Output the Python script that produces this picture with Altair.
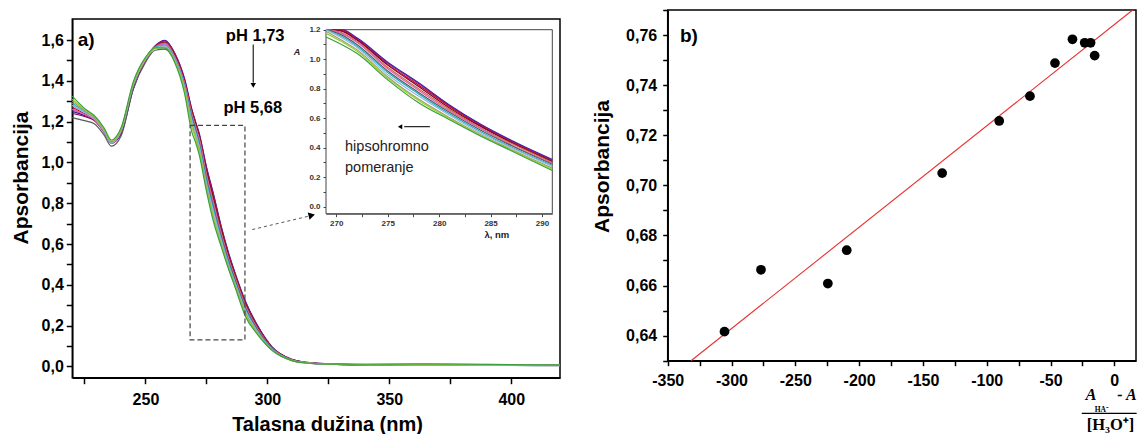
import altair as alt
import pandas as pd

W, H = 1129, 426

# ---------------- panel a) : UV spectra ----------------
wavelength = [220, 225, 229, 233, 236, 240, 245, 250, 254, 258, 262, 266, 269, 270.5, 272,
              275, 278, 281, 284, 287, 291, 296, 302, 310, 316, 325, 340, 360, 380, 400, 420]

series_names = ["s01", "s02", "s03", "s04", "s05", "s06", "s07", "s08", "s09", "s10", "s11", "s12"]
series_colors = ["#2424A8", "#7B1FA2", "#C41010", "#800040", "#C87030", "#E060C0",
                 "#5A5A5A", "#20B0C0", "#8FB8E8", "#A0A060", "#9ACD32", "#3CA040"]

abs_s01 = [1.25, 1.23, 1.21, 1.15, 1.095, 1.14, 1.36, 1.50, 1.57, 1.598, 1.535,
           1.41, 1.26, 1.20, 1.145, 0.98, 0.84, 0.69, 0.56, 0.45, 0.32, 0.20, 0.095, 0.035,
           0.020, 0.013, 0.009, 0.007, 0.006, 0.005, 0.005]
abs_s02 = [1.26, 1.235, 1.215, 1.155, 1.10, 1.145, 1.365, 1.505, 1.572, 1.596, 1.535,
           1.41, 1.26, 1.20, 1.14, 0.975, 0.835, 0.685, 0.555, 0.445, 0.315, 0.197, 0.094, 0.035,
           0.020, 0.013, 0.009, 0.008, 0.007, 0.006, 0.005]
abs_s03 = [1.27, 1.24, 1.215, 1.155, 1.10, 1.15, 1.37, 1.505, 1.57, 1.59, 1.53,
           1.40, 1.255, 1.195, 1.135, 0.965, 0.825, 0.68, 0.55, 0.44, 0.31, 0.193, 0.092, 0.034,
           0.019, 0.012, 0.009, 0.008, 0.007, 0.006, 0.006]
abs_s04 = [1.24, 1.225, 1.205, 1.15, 1.095, 1.145, 1.37, 1.50, 1.565, 1.588, 1.525,
           1.40, 1.25, 1.19, 1.13, 0.96, 0.815, 0.67, 0.545, 0.435, 0.305, 0.19, 0.09, 0.033,
           0.019, 0.012, 0.008, 0.007, 0.006, 0.005, 0.005]
abs_s05 = [1.28, 1.245, 1.22, 1.16, 1.10, 1.155, 1.375, 1.505, 1.565, 1.585, 1.52,
           1.39, 1.24, 1.18, 1.12, 0.945, 0.80, 0.66, 0.535, 0.43, 0.30, 0.186, 0.088, 0.033,
           0.019, 0.012, 0.009, 0.008, 0.008, 0.007, 0.006]
abs_s06 = [1.26, 1.235, 1.21, 1.15, 1.095, 1.15, 1.375, 1.505, 1.565, 1.58, 1.515,
           1.39, 1.235, 1.175, 1.115, 0.935, 0.79, 0.65, 0.53, 0.42, 0.295, 0.182, 0.087, 0.032,
           0.018, 0.012, 0.009, 0.009, 0.008, 0.006, 0.005]
abs_s07 = [1.22, 1.205, 1.19, 1.135, 1.08, 1.13, 1.36, 1.49, 1.55, 1.555, 1.50,
           1.38, 1.225, 1.165, 1.10, 0.92, 0.775, 0.64, 0.52, 0.415, 0.288, 0.178, 0.085, 0.032,
           0.018, 0.011, 0.008, 0.007, 0.006, 0.005, 0.004]
abs_s08 = [1.29, 1.25, 1.22, 1.16, 1.10, 1.16, 1.38, 1.51, 1.565, 1.575, 1.51,
           1.375, 1.215, 1.155, 1.09, 0.91, 0.765, 0.63, 0.51, 0.405, 0.28, 0.173, 0.083, 0.031,
           0.018, 0.012, 0.009, 0.008, 0.007, 0.006, 0.005]
abs_s09 = [1.28, 1.245, 1.215, 1.155, 1.095, 1.155, 1.38, 1.505, 1.56, 1.57, 1.505,
           1.37, 1.205, 1.145, 1.08, 0.895, 0.75, 0.62, 0.50, 0.40, 0.273, 0.169, 0.082, 0.030,
           0.018, 0.011, 0.008, 0.007, 0.006, 0.005, 0.004]
abs_s10 = [1.30, 1.255, 1.22, 1.16, 1.10, 1.16, 1.385, 1.51, 1.56, 1.565, 1.50,
           1.36, 1.19, 1.13, 1.065, 0.88, 0.73, 0.605, 0.49, 0.39, 0.262, 0.164, 0.080, 0.030,
           0.018, 0.012, 0.010, 0.010, 0.009, 0.007, 0.006]
abs_s11 = [1.31, 1.26, 1.225, 1.165, 1.105, 1.165, 1.39, 1.51, 1.56, 1.562, 1.495,
           1.355, 1.175, 1.12, 1.055, 0.87, 0.72, 0.598, 0.485, 0.385, 0.254, 0.16, 0.079, 0.029,
           0.017, 0.012, 0.010, 0.011, 0.010, 0.008, 0.006]
abs_s12 = [1.325, 1.265, 1.23, 1.17, 1.11, 1.17, 1.395, 1.515, 1.562, 1.56, 1.49,
           1.34, 1.15, 1.10, 1.04, 0.86, 0.705, 0.59, 0.48, 0.38, 0.245, 0.156, 0.078, 0.029,
           0.017, 0.012, 0.011, 0.013, 0.012, 0.009, 0.007]

all_abs = [abs_s01, abs_s02, abs_s03, abs_s04, abs_s05, abs_s06,
           abs_s07, abs_s08, abs_s09, abs_s10, abs_s11, abs_s12]

# ---------------- panel b) : linearisation ----------------
ratio_x = [-305.5, -276.9, -224.5, -209.7, -134.9, -90.2, -66.1, -46.5, -32.8, -23.2, -18.6, -15.4]
absorb_b = [0.6416, 0.6663, 0.6608, 0.6741, 0.7049, 0.7257, 0.7356, 0.7488, 0.7583, 0.7569, 0.7569, 0.7518]
fit_x = [-331.7, 14.4]
fit_y = [0.630, 0.770]

# ---------------- layout (pixels inside the chart) ----------------
MAIN_X = [64.3, 552.0]
MAIN_Y = [369.7, 11.0]
INS_X = [318.0, 544.3]
INS_Y = [205.7, 21.7]
RGT_X = [659.7, 1128.0]
RGT_Y = [352.7, 2.0]

FONT = "Liberation Sans"
SERIF = "Liberation Serif"

rows = []
for name, vals in zip(series_names, all_abs):
    for wl, a in zip(wavelength, vals):
        rows.append({"wl": wl, "A": a, "s": name})
spec_df = pd.DataFrame(rows)
inset_df = spec_df[(spec_df["wl"] >= 269) & (spec_df["wl"] <= 291)]

color_enc = alt.Color("s:N", scale=alt.Scale(domain=series_names, range=series_colors), legend=None)


def axis(**kw):
    base = dict(grid=False, domainColor="black", tickColor="black", labelColor="black",
                labelFont=FONT, labelFontWeight="bold", labelFlush=False, labelOverlap=False,
                titleFont=FONT, titleFontWeight="bold", titleColor="black")
    base.update(kw)
    return alt.Axis(**base)


def xy(df, xs, ys, xf="x", yf="y", xaxis=None, yaxis=None):
    return dict(x=alt.X(f"{xf}:Q", scale=xs, axis=xaxis), y=alt.Y(f"{yf}:Q", scale=ys, axis=yaxis))


# ---- main (a) scales ----
mx = alt.Scale(domain=[220, 420], range=MAIN_X, nice=False, zero=False)
my = alt.Scale(domain=[-0.055, 1.703], range=MAIN_Y, nice=False, zero=False)

main_xaxis = axis(orient="bottom", offset=-(H - MAIN_Y[0]),
                  values=[225, 250, 275, 300, 325, 350, 375, 400],
                  labelExpr="datum.value % 50 === 0 ? format(datum.value, 'd') : ''",
                  labelFontSize=16, labelPadding=8, tickSize=6, tickWidth=1.5, domainWidth=1.5,
                  title="Talasna dužina (nm)", titleFontSize=20, titleX=319, titleY=52.3,
                  titleAlign="center", titleBaseline="alphabetic")
main_yaxis = axis(orient="left", offset=-MAIN_X[0],
                  values=[0, 0.1, 0.2, 0.3, 0.4, 0.5, 0.6, 0.7, 0.8, 0.9, 1.0, 1.1, 1.2, 1.3, 1.4, 1.5, 1.6],
                  labelExpr="round(datum.value*10) % 2 === 0 ? replace(format(datum.value, '.1f'), '.', ',') : ''",
                  labelFontSize=16, labelPadding=3, tickSize=6, tickWidth=1.5, domainWidth=1.5,
                  title="Apsorbancija", titleFontSize=21, titleAngle=270, titleX=-45, titleY=169.5,
                  titleAlign="center", titleBaseline="alphabetic")

layers = []

frame_a = pd.DataFrame({"x": [220], "x2": [420], "y": [-0.055], "y2": [1.703]})
layers.append(alt.Chart(frame_a).mark_rect(fillOpacity=0, stroke="black", strokeWidth=1.5).encode(
    x2="x2:Q", y2="y2:Q", **xy(frame_a, mx, my)))

layers.append(alt.Chart(spec_df).mark_line(interpolate="monotone", strokeWidth=1.2).encode(
    color=color_enc, detail="s:N",
    **xy(spec_df, mx, my, "wl", "A", main_xaxis, main_yaxis)))

zoom_box = pd.DataFrame({"x": [268.3], "x2": [290.8], "y": [0.13], "y2": [1.182]})
layers.append(alt.Chart(zoom_box).mark_rect(fillOpacity=0, stroke="#444", strokeWidth=1.2,
                                            strokeDash=[5, 3]).encode(
    x2="x2:Q", y2="y2:Q", **xy(zoom_box, mx, my)))

conn = pd.DataFrame({"x": [293.8, 317.4], "y": [0.671, 0.738]})
layers.append(alt.Chart(conn).mark_line(strokeDash=[3, 3], color="#555", strokeWidth=1).encode(
    **xy(conn, mx, my)))
conn_head = pd.DataFrame({"x": [318.2], "y": [0.741]})
layers.append(alt.Chart(conn_head).mark_point(shape="triangle-right", filled=True, size=55,
                                              color="black", opacity=1, angle=346).encode(
    **xy(conn_head, mx, my)))

ph_arrow = pd.DataFrame({"x": [294.2, 294.2], "y": [1.578, 1.39]})
layers.append(alt.Chart(ph_arrow).mark_line(color="#222", strokeWidth=1.2).encode(
    **xy(ph_arrow, mx, my)))
ph_head = pd.DataFrame({"x": [294.2], "y": [1.378]})
layers.append(alt.Chart(ph_head).mark_point(shape="triangle-down", filled=True, size=30,
                                            color="black", opacity=1).encode(
    **xy(ph_head, mx, my)))

ph_text = pd.DataFrame({"x": [295.0, 294.0], "y": [1.622, 1.269], "t": ["pH 1,73", "pH 5,68"]})
layers.append(alt.Chart(ph_text).mark_text(font=FONT, fontWeight="bold", fontSize=16.5,
                                           color="black", baseline="middle").encode(
    text="t:N", **xy(ph_text, mx, my)))

a_label = pd.DataFrame({"x": [222.2], "y": [1.60], "t": ["a)"]})
layers.append(alt.Chart(a_label).mark_text(font=FONT, fontWeight="bold", fontSize=19, align="left",
                                           baseline="middle", color="black").encode(
    text="t:N", **xy(a_label, mx, my)))

ins_A = pd.DataFrame({"x": [312.1], "y": [1.541], "t": ["A"]})
layers.append(alt.Chart(ins_A).mark_text(font=FONT, fontWeight="bold", fontStyle="italic",
                                         fontSize=9, baseline="middle", color="#222").encode(
    text="t:N", **xy(ins_A, mx, my)))
ins_xt = pd.DataFrame({"x": [394.1], "y": [0.646], "t": ["λ, nm"]})
layers.append(alt.Chart(ins_xt).mark_text(font=FONT, fontWeight="bold", fontSize=9.5,
                                          baseline="middle", color="#222").encode(
    text="t:N", **xy(ins_xt, mx, my)))

# ---- inset scales ----
ix = alt.Scale(domain=[269, 291], range=INS_X, nice=False, zero=False)
iy = alt.Scale(domain=[-0.047, 1.2], range=INS_Y, nice=False, zero=False, clamp=True)

ins_xaxis = axis(orient="bottom", offset=-(H - INS_Y[0]),
                 values=[270, 272.5, 275, 277.5, 280, 282.5, 285, 287.5, 290],
                 labelExpr="datum.value % 5 === 0 ? format(datum.value, 'd') : ''",
                 labelFontSize=8, labelColor="#333", labelPadding=3, tickSize=3, tickWidth=1,
                 domainWidth=1, domainColor="#444", tickColor="#444", title=None)
ins_yaxis = axis(orient="left", offset=-INS_X[0],
                 values=[0, 0.1, 0.2, 0.3, 0.4, 0.5, 0.6, 0.7, 0.8, 0.9, 1.0, 1.1, 1.2],
                 labelExpr="round(datum.value*10) % 2 === 0 ? format(datum.value, '.1f') : ''",
                 labelFontSize=8, labelColor="#333", labelPadding=3, tickSize=3, tickWidth=1,
                 domainWidth=1, domainColor="#444", tickColor="#444", title=None)

frame_i = pd.DataFrame({"x": [269], "x2": [291], "y": [-0.047], "y2": [1.2]})
layers.append(alt.Chart(frame_i).mark_rect(fill="white", stroke="#444", strokeWidth=1).encode(
    x2="x2:Q", y2="y2:Q", **xy(frame_i, ix, iy)))

layers.append(alt.Chart(inset_df).mark_line(interpolate="monotone", strokeWidth=1.2).encode(
    color=color_enc, detail="s:N",
    **xy(inset_df, ix, iy, "wl", "A", ins_xaxis, ins_yaxis)))

shift_arrow = pd.DataFrame({"x": [279.1, 276.6], "y": [0.543, 0.543]})
layers.append(alt.Chart(shift_arrow).mark_line(color="#222", strokeWidth=1.2).encode(
    **xy(shift_arrow, ix, iy)))
shift_head = pd.DataFrame({"x": [276.2], "y": [0.543]})
layers.append(alt.Chart(shift_head).mark_point(shape="triangle-left", filled=True, size=25,
                                               color="black", opacity=1).encode(
    **xy(shift_head, ix, iy)))

shift_text = pd.DataFrame({"x": [270.85, 270.85], "y": [0.405, 0.262], "t": ["hipsohromno", "pomeranje"]})
layers.append(alt.Chart(shift_text).mark_text(font=FONT, fontSize=14.5, align="left", baseline="middle",
                                              color="#222").encode(
    text="t:N", **xy(shift_text, ix, iy)))

# ---- right (b) scales ----
rx = alt.Scale(domain=[-350, 17.0], range=RGT_X, nice=False, zero=False)
ry = alt.Scale(domain=[0.63, 0.77], range=RGT_Y, nice=False, zero=False)

r_xaxis = axis(orient="bottom", offset=-(H - RGT_Y[0]),
               values=[-350, -325, -300, -275, -250, -225, -200, -175, -150, -125, -100, -75, -50, -25, 0],
               labelExpr="datum.value % 50 === 0 ? (datum.value < 0 ? '-' + format(-datum.value, 'd') : format(datum.value, 'd')) : ''",
               labelFontSize=16, labelPadding=7, tickSize=5, tickWidth=1.5, domainWidth=1.5, title=None)
r_yaxis = axis(orient="left", offset=-RGT_X[0],
               values=[0.63, 0.64, 0.65, 0.66, 0.67, 0.68, 0.69, 0.70, 0.71, 0.72, 0.73, 0.74, 0.75, 0.76, 0.77],
               labelExpr="round(datum.value*100) % 2 === 0 ? replace(format(datum.value, '.2f'), '.', ',') : ''",
               labelFontSize=16, labelPadding=6, tickSize=5, tickWidth=1.5, domainWidth=1.5,
               title="Apsorbancija", titleFontSize=21, titleAngle=270, titleX=-59.7, titleY=158,
               titleAlign="center", titleBaseline="alphabetic")

frame_b = pd.DataFrame({"x": [-350], "x2": [17.0], "y": [0.63], "y2": [0.77]})
layers.append(alt.Chart(frame_b).mark_rect(fillOpacity=0, stroke="black", strokeWidth=1.5).encode(
    x2="x2:Q", y2="y2:Q", **xy(frame_b, rx, ry)))

fit_df = pd.DataFrame({"x": fit_x, "y": fit_y})
layers.append(alt.Chart(fit_df).mark_line(color="#E83030", strokeWidth=1.1).encode(
    **xy(fit_df, rx, ry)))

pts_df = pd.DataFrame({"x": ratio_x, "y": absorb_b})
layers.append(alt.Chart(pts_df).mark_circle(size=95, color="black", opacity=1).encode(
    **xy(pts_df, rx, ry, xaxis=r_xaxis, yaxis=r_yaxis)))

b_label = pd.DataFrame({"x": [-340.4], "y": [0.7598], "t": ["b)"]})
layers.append(alt.Chart(b_label).mark_text(font=FONT, fontWeight="bold", fontSize=19, align="left",
                                           baseline="middle", color="black").encode(
    text="t:N", **xy(b_label, rx, ry)))

# x-axis title written as a fraction (A_HA- - A) / [H3O+]
num_A = pd.DataFrame({"x": [-18.3], "y": [0.6164], "t": ["A"]})
layers.append(alt.Chart(num_A).mark_text(font=SERIF, fontWeight="bold", fontStyle="italic",
                                         fontSize=16.5, baseline="middle", align="center",
                                         color="black").encode(text="t:N", **xy(num_A, rx, ry)))
num_B = pd.DataFrame({"x": [2.4], "y": [0.6164], "t": ["-\u2009A"]})
layers.append(alt.Chart(num_B).mark_text(font=SERIF, fontWeight="bold", fontStyle="italic",
                                         fontSize=16, baseline="middle", align="left",
                                         color="black").encode(text="t:N", **xy(num_B, rx, ry)))
sub_df = pd.DataFrame({"x": [-9.8], "y": [0.6103], "t": ["HA⁻"]})
layers.append(alt.Chart(sub_df).mark_text(font=SERIF, fontWeight="bold", fontSize=7.5, baseline="middle",
                                          align="center", color="black").encode(text="t:N", **xy(sub_df, rx, ry)))
bar_df = pd.DataFrame({"x": [-25.5], "x2": [17.5], "y": [0.6090]})
layers.append(alt.Chart(bar_df).mark_rule(color="black", strokeWidth=1.2).encode(
    x2="x2:Q", **xy(bar_df, rx, ry)))
den_df = pd.DataFrame({"x": [-3.0], "y": [0.6043], "t": ["[H₃O⁺]"]})
layers.append(alt.Chart(den_df).mark_text(font=SERIF, fontWeight="bold", fontSize=16.5, baseline="middle",
                                          align="center", color="black").encode(text="t:N", **xy(den_df, rx, ry)))

chart = alt.layer(*layers).resolve_scale(
    x="independent", y="independent"
).properties(
    width=W, height=H, padding=0, autosize=alt.AutoSizeParams(type="none")
).configure_view(stroke=None)

chart.save("out.html", embed_options={"renderer": "svg", "actions": False})
